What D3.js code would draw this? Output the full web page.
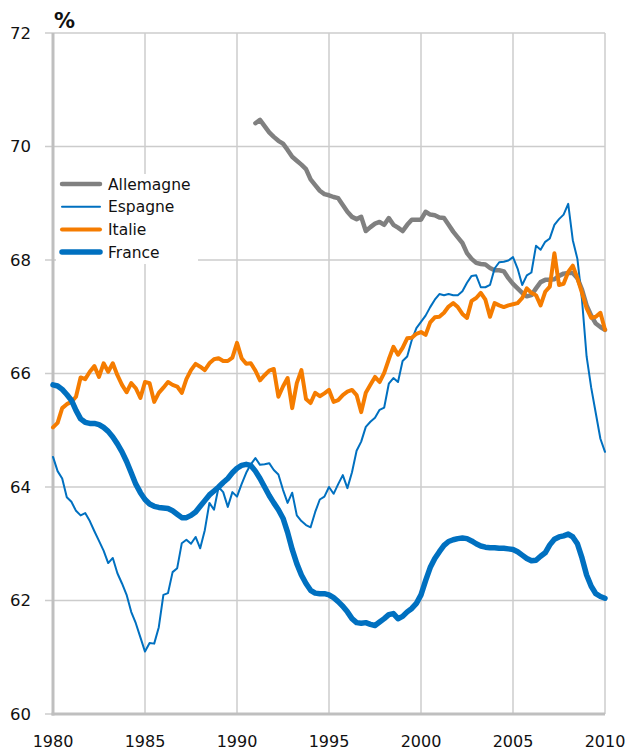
<!DOCTYPE html>
<html>
<head>
<meta charset="utf-8">
<script src="https://cdn.jsdelivr.net/npm/d3@7"></script>
<style>
  body { margin: 0; background: #fff; }
  svg text { font-family: "DejaVu Sans", sans-serif; fill: #111; }
</style>
</head>
<body>
<div id="chart"></div>
<script>
// quarterly values, 1980Q1 .. 2010Q1
const startFrance = 1980;
const france = [
  65.80, 65.78, 65.72, 65.63,  65.53, 65.35, 65.20, 65.14,  65.12, 65.12, 65.10, 65.05,
  64.98, 64.88, 64.76, 64.62,  64.45, 64.25, 64.05, 63.90,  63.78, 63.70, 63.66, 63.64,
  63.63, 63.62, 63.58, 63.52,  63.46, 63.46, 63.50, 63.56,  63.66, 63.76, 63.86, 63.93,
  64.00, 64.08, 64.15, 64.25,  64.33, 64.38, 64.40, 64.38,  64.28, 64.15, 64.00, 63.85,
  63.72, 63.60, 63.45, 63.20,  62.90, 62.65, 62.45, 62.30,  62.18, 62.13, 62.12, 62.12,
  62.10, 62.05, 61.98, 61.90,  61.80, 61.68, 61.61, 61.60,  61.61, 61.58, 61.56, 61.62,
  61.68, 61.75, 61.77, 61.68,  61.72, 61.80, 61.86, 61.95,  62.10, 62.35, 62.58, 62.74,
  62.86, 62.97, 63.04, 63.07,  63.09, 63.10, 63.09, 63.05,  63.00, 62.96, 62.94, 62.93,
  62.93, 62.92, 62.92, 62.91,  62.90, 62.86, 62.80, 62.74,  62.70, 62.71, 62.78, 62.84,
  62.98, 63.08, 63.12, 63.14,  63.17, 63.12, 63.00, 62.75,  62.45, 62.25, 62.12, 62.07,
  62.04
];

const startEspagne = 1980;
const espagne = [
  64.53, 64.28, 64.15, 63.82,  63.74, 63.58, 63.50, 63.54,  63.40, 63.22, 63.05, 62.88,
  62.66, 62.75, 62.48, 62.30,  62.10, 61.80, 61.60, 61.35,  61.10, 61.25, 61.24, 61.53,
  62.10, 62.13, 62.50, 62.57,  63.01, 63.07, 63.00, 63.12,  62.92, 63.24, 63.72, 63.60,
  64.00, 63.91, 63.65, 63.91,  63.83, 64.05, 64.25, 64.40,  64.51, 64.39, 64.40, 64.42,
  64.30, 64.22, 63.95, 63.72,  63.90, 63.50, 63.40, 63.33,  63.29, 63.56, 63.78, 63.83,
  64.00, 63.88, 64.05, 64.21,  63.98, 64.26, 64.64, 64.80,  65.06, 65.15, 65.22, 65.36,
  65.40, 65.82, 65.92, 65.85,  66.22, 66.30, 66.59, 66.80,  66.91, 67.02, 67.17, 67.30,
  67.40, 67.38, 67.40, 67.38,  67.38, 67.45, 67.60, 67.72,  67.73, 67.52, 67.52, 67.56,
  67.85, 67.96, 67.97, 67.99,  68.05, 67.85, 67.56, 67.73,  67.78, 68.25, 68.18, 68.32,
  68.38, 68.62, 68.72, 68.80,  68.99, 68.35, 68.02, 67.30,  66.30, 65.75, 65.30, 64.85,
  64.62
];

const startItalie = 1980;
const italie = [
  65.05, 65.13, 65.39, 65.46,  65.50, 65.59, 65.93, 65.90,  66.03, 66.13, 65.94, 66.18,
  66.03, 66.18, 65.97, 65.80,  65.67, 65.83, 65.74, 65.57,  65.85, 65.83, 65.50, 65.66,
  65.75, 65.85, 65.80, 65.77,  65.66, 65.90, 66.06, 66.17,  66.12, 66.06, 66.18, 66.25,
  66.27, 66.22, 66.22, 66.28,  66.54, 66.27, 66.17, 66.18,  66.05, 65.88, 65.97, 66.05,
  66.08, 65.59, 65.77, 65.92,  65.39, 65.83, 66.06, 65.55,  65.48, 65.66, 65.60, 65.65,
  65.71, 65.50, 65.53, 65.62,  65.68, 65.71, 65.62, 65.32,  65.66, 65.80, 65.94, 65.85,
  66.01, 66.25, 66.47, 66.33,  66.45, 66.62, 66.63, 66.70,  66.73, 66.68, 66.90, 66.99,
  67.00, 67.07, 67.18, 67.24,  67.17, 67.05, 66.98, 67.28,  67.33, 67.42, 67.30, 67.00,
  67.24, 67.20, 67.17, 67.20,  67.22, 67.24, 67.33, 67.50,  67.42, 67.38, 67.20, 67.44,
  67.53, 68.12, 67.56, 67.58,  67.79, 67.90, 67.68, 67.42,  67.15, 66.98, 67.00, 67.07,
  66.77
];

const startAllemagne = 1991;
const allemagne = [
  70.41, 70.47, 70.36, 70.25,  70.17, 70.10, 70.05, 69.94,  69.82, 69.75, 69.68, 69.60,
  69.42, 69.32, 69.22, 69.16,  69.14, 69.11, 69.09, 68.97,  68.85, 68.76, 68.72, 68.76,
  68.51, 68.58, 68.64, 68.67,  68.62, 68.74, 68.62, 68.57,  68.51, 68.62, 68.71, 68.71,
  68.71, 68.85, 68.80, 68.79,  68.75, 68.74, 68.62, 68.50,  68.40, 68.30, 68.12, 68.02,
  67.95, 67.93, 67.92, 67.86,  67.82, 67.82, 67.80, 67.68,  67.58, 67.50, 67.42, 67.36,
  67.38, 67.50, 67.61, 67.65,  67.65, 67.66, 67.72, 67.76,  67.77, 67.77, 67.68, 67.48,
  67.20, 67.02, 66.88, 66.82,  66.77
];

const yTicks = [60, 62, 64, 66, 68, 70, 72];
const xTicks = [1980, 1985, 1990, 1995, 2000, 2005, 2010];

const series = [
  { name: "Allemagne", start: startAllemagne, values: allemagne, color: "#808080", width: 4.5 },
  { name: "Espagne", start: startEspagne, values: espagne, color: "#0070c0", width: 2 },
  { name: "Italie", start: startItalie, values: italie, color: "#f57c00", width: 4 },
  { name: "France", start: startFrance, values: france, color: "#0070c0", width: 5.5 }
];

const width = 625, height = 754;
const margin = { top: 33, right: 20, bottom: 40, left: 53 };

const svg = d3.select("#chart").append("svg")
  .attr("width", width)
  .attr("height", height);

const x = d3.scaleLinear().domain([1980, 2010]).range([margin.left, width - margin.right]);
const y = d3.scaleLinear().domain([60, 72]).range([height - margin.bottom, margin.top]);

// grid
svg.append("g")
  .selectAll("line.h")
  .data(yTicks)
  .enter().append("line")
  .attr("x1", margin.left - 8)
  .attr("x2", x(2010))
  .attr("y1", d => y(d))
  .attr("y2", d => y(d))
  .attr("stroke", "#cccccc")
  .attr("stroke-width", 1.5);

svg.append("g")
  .selectAll("line.v")
  .data(xTicks)
  .enter().append("line")
  .attr("x1", d => x(d))
  .attr("x2", d => x(d))
  .attr("y1", y(72))
  .attr("y2", y(60))
  .attr("stroke", "#cccccc")
  .attr("stroke-width", 1.5);

// axis lines
svg.append("line")
  .attr("x1", x(1980)).attr("x2", x(1980))
  .attr("y1", y(72)).attr("y2", y(60) + 1.5)
  .attr("stroke", "#bfbfbf").attr("stroke-width", 3);
svg.append("line")
  .attr("x1", x(1980) - 1.5).attr("x2", x(2010))
  .attr("y1", y(60)).attr("y2", y(60))
  .attr("stroke", "#bfbfbf").attr("stroke-width", 3);

// tick labels
svg.append("g")
  .selectAll("text")
  .data(yTicks)
  .enter().append("text")
  .attr("x", 31)
  .attr("y", d => y(d))
  .attr("dy", "0.36em")
  .attr("text-anchor", "end")
  .attr("font-size", 16.5)
  .text(d => d);

svg.append("g")
  .selectAll("text")
  .data(xTicks)
  .enter().append("text")
  .attr("x", d => x(d))
  .attr("y", y(60) + 33)
  .attr("text-anchor", "middle")
  .attr("font-size", 16)
  .text(d => d);

svg.append("text")
  .attr("x", 54)
  .attr("y", 28)
  .attr("font-size", 21)
  .attr("font-weight", "bold")
  .text("%");

// lines
const line = d3.line()
  .x(d => x(d.t))
  .y(d => y(d.v));

svg.append("g")
  .selectAll("path")
  .data(series)
  .enter().append("path")
  .attr("fill", "none")
  .attr("stroke", d => d.color)
  .attr("stroke-width", d => d.width)
  .attr("stroke-linejoin", "round")
  .attr("stroke-linecap", "round")
  .attr("d", d => line(d.values.map((v, i) => ({ t: d.start + i / 4, v: v }))));

// legend
const legend = svg.append("g");
legend.append("rect")
  .attr("x", 56).attr("y", 174)
  .attr("width", 142).attr("height", 90)
  .attr("fill", "#fff");

const items = legend.selectAll("g")
  .data(series)
  .enter().append("g")
  .attr("transform", (d, i) => `translate(62,${184 + i * 22.7})`);

items.append("line")
  .attr("x1", 0).attr("x2", 38)
  .attr("stroke", d => d.color)
  .attr("stroke-width", d => d.width)
  .attr("stroke-linecap", "round");

items.append("text")
  .attr("x", 46)
  .attr("dy", "0.36em")
  .attr("font-size", 15.5)
  .text(d => d.name);
</script>
</body>
</html>
